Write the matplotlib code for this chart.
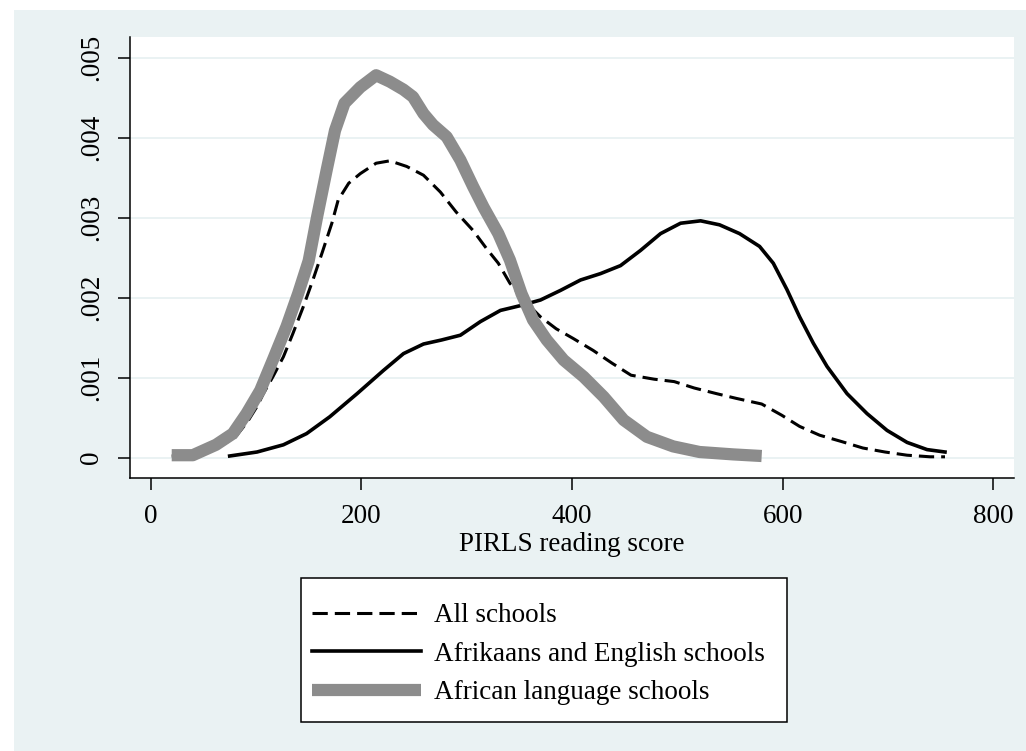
import matplotlib
matplotlib.use('Agg')
import matplotlib.pyplot as plt
from matplotlib.patches import Rectangle
from matplotlib.lines import Line2D

plt.rcParams['font.family'] = ['Liberation Serif', 'DejaVu Serif']

# kernel density estimates of PIRLS reading scores
x_all = [20, 40, 60, 80, 92, 101, 107, 116, 126, 135, 145, 154, 163, 172, 178,
         188, 199, 214, 227, 243, 259, 275, 290, 306, 319, 330, 341, 357, 370,
         385, 401, 420, 438, 456, 478, 497, 516, 537, 556, 580, 599, 616, 635,
         656, 676, 697, 718, 740, 754]
y_all = [.00002, .00003, .0001, .00025, .00045, .00064, .0008, .00101, .00126,
         .00155, .00189, .00222, .00257, .00293, .00322, .00343, .00355, .00368,
         .00371, .00364, .00353, .00332, .00307, .00284, .00261, .00243, .00218,
         .00193, .00176, .00161, .00149, .00134, .00118, .00103, .00098, .00095,
         .00087, .0008, .00074, .00067, .00053, .00039, .00028, .0002, .00012,
         .00007, .00003, .00001, .00001]

x_ae = [75, 101, 126, 148, 170, 196, 221, 240, 259, 276, 294, 313, 332, 351,
        370, 389, 408, 427, 446, 465, 484, 503, 522, 540, 559, 578, 591, 604,
        616, 629, 642, 661, 680, 699, 718, 737, 754]
y_ae = [.00002, .00007, .00016, .0003, .00051, .0008, .00109, .0013, .00142,
        .00147, .00153, .0017, .00184, .0019, .00197, .00209, .00222, .0023,
        .0024, .00259, .0028, .00293, .00296, .00291, .0028, .00264, .00243,
        .0021, .00176, .00143, .00114, .0008, .00055, .00034, .00019, .0001,
        .00007]

x_afr = [20, 40, 62, 78, 91, 104, 116, 129, 140, 150, 158, 167, 175, 184, 199,
         214, 227, 240, 249, 259, 268, 281, 294, 306, 316, 330, 341, 352, 363,
         376, 392, 411, 430, 449, 471, 496, 521, 553, 580]
y_afr = [.00003, .00003, .00016, .0003, .00055, .00084, .00122, .00164, .00205,
         .00246, .00301, .00359, .00409, .00443, .00463, .00478, .0047, .0046,
         .00451, .0043, .00416, .00401, .00372, .00339, .00313, .0028, .00247,
         .00205, .00172, .00147, .00122, .00101, .00076, .00047, .00026, .00014,
         .00007, .00004, .00002]

labels = ['All schools', 'Afrikaans and English schools', 'African language schools']
xticks = [0, 200, 400, 600, 800]
yticks = [0, .001, .002, .003, .004, .005]
ytick_labels = ['0', '.001', '.002', '.003', '.004', '.005']

W, H = 1026, 751
bg = '#eaf2f3'
gray = '#8c8c8c'
fs = 19.5

fig = plt.figure(figsize=(W / 100, H / 100), dpi=100, facecolor='white')
fig.patches.append(Rectangle((14 / W, 0), 1, 1 - 10 / H, transform=fig.transFigure,
                             facecolor=bg, edgecolor='none', zorder=-2))

ax = fig.add_axes([130 / W, 1 - 478 / H, (1014 - 130) / W, (478 - 37) / H])
ax.set_facecolor('white')

dash = (0, (5, 2.3))
ax.plot(x_all, y_all, color='black', lw=2.2, linestyle=dash, zorder=3)
ax.plot(x_ae, y_ae, color='black', lw=2.6, solid_joinstyle='round', zorder=3)
ax.plot(x_afr, y_afr, color=gray, lw=8.8, solid_joinstyle='round',
        solid_capstyle='butt', zorder=4)

ax.set_xlim(-19.6, 819.5)
ax.set_ylim(-0.000255, 0.005258)
ax.set_xticks(xticks)
ax.set_xticklabels([str(t) for t in xticks], fontsize=fs)
ax.set_yticks(yticks)
ax.set_yticklabels(ytick_labels, fontsize=fs, rotation=90, va='center')
ax.set_xlabel('PIRLS reading score', fontsize=fs, labelpad=2)

for s in ['top', 'right']:
    ax.spines[s].set_visible(False)
for s in ['left', 'bottom']:
    ax.spines[s].set_linewidth(1.1)
ax.tick_params(direction='out', length=8.6, width=1.1, color='black')
ax.tick_params(axis='x', pad=10)
ax.tick_params(axis='y', pad=10)
ax.yaxis.grid(True, color=bg, lw=1.4, zorder=0)
ax.set_axisbelow(True)

# legend box below the plot
fig.patches.append(Rectangle((300.7 / W, 1 - 722 / H), (787 - 300.7) / W, (722 - 578) / H,
                             transform=fig.transFigure, facecolor='white',
                             edgecolor='black', lw=1.1, zorder=-1))
handles = [Line2D([], [], color='black', lw=2.2, linestyle=dash),
           Line2D([], [], color='black', lw=2.6),
           Line2D([], [], color=gray, lw=8.8, solid_capstyle='butt')]
fig.legend(handles, labels, loc='upper left', bbox_to_anchor=(292 / W, 1 - 583 / H),
           bbox_transform=fig.transFigure, frameon=False, fontsize=fs,
           handlelength=4.0, handletextpad=0.5, borderpad=0.75,
           borderaxespad=0, labelspacing=0.5)

fig.savefig('out.png', dpi=100, facecolor='white')
